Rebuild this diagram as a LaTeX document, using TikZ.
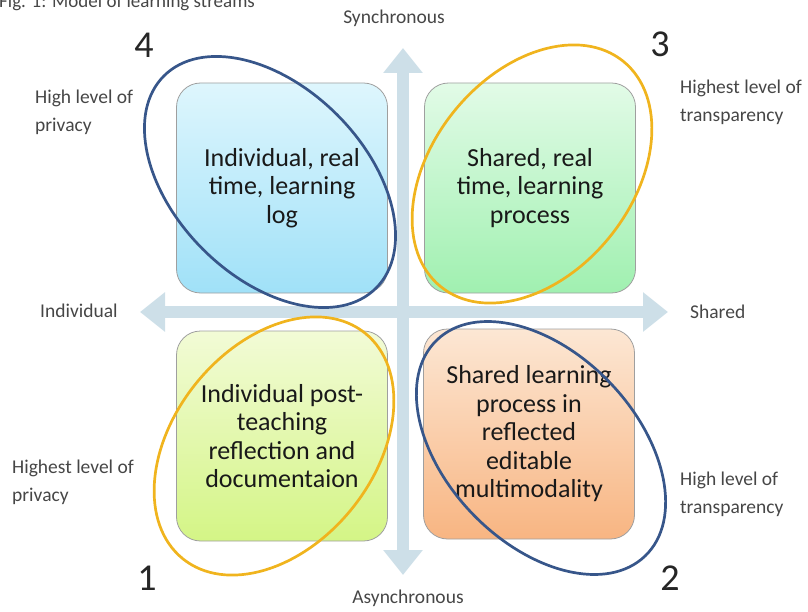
\documentclass[tikz,border=0pt]{standalone}
\usepackage{fontspec}
\setmainfont{Carlito}
\usetikzlibrary{arrows.meta}

\definecolor{axisblue}{RGB}{205,223,232}
\definecolor{ringblue}{RGB}{55,86,138}
\definecolor{ringgold}{RGB}{240,180,30}
\definecolor{labelgrey}{RGB}{70,70,70}

\begin{document}
\begin{tikzpicture}[x=1pt,y=1pt,yscale=-1,xscale=1,
	quad/.style={draw=gray!75, line width=0.8pt, rounded corners=24pt, minimum width=211pt, minimum height=210pt, inner sep=0pt, align=center, text=black!90, font=\fontsize{26}{28.5}\selectfont},
	side/.style={anchor=west, inner sep=0pt, align=left, text=labelgrey, font=\fontsize{19.5}{28}\selectfont},
	axislabel/.style={inner sep=0pt, text=labelgrey, font=\fontsize{19.5}{22}\selectfont},
	corner/.style={inner sep=0pt, text=black!85, font=\fontsize{38}{40}\selectfont},
	axis/.style={line width=12pt, color=axisblue, {Triangle[width=38pt,length=25pt]}-{Triangle[width=38pt,length=25pt]}},
	ring/.style={line width=2.7pt}]
		% Set diagram size to 808 x 612
		\useasboundingbox (0,0) rectangle (808,612);
		\clip (0,0) rectangle (808,612);

		% Caption, cut at the top edge
		\node[anchor=base west, inner sep=0pt, text=labelgrey, font=\fontsize{19}{22}\selectfont] (caption) at (-1,8) {Fig. 1: Model of learning streams};

		% End points of the two axes
		\coordinate (syn) at (403,48);
		\coordinate (asyn) at (403,575);
		\coordinate (indiv) at (140,312);
		\coordinate (shrd) at (668,312);

		% Draw the two double arrows
		\draw[axis] (asyn) -- (syn);
		\draw[axis] (indiv) -- (shrd);

		% Axis labels
		\node[axislabel] (synlabel) at (394,18) {Synchronous};
		\node[axislabel] (asynlabel) at (408,598) {Asynchronous};
		\node[axislabel, anchor=west] (indivlabel) at (40,311) {Individual};
		\node[axislabel, anchor=west] (shrdlabel) at (690,312) {Shared};

		% The four quadrant boxes
		\node[quad, top color={rgb,255:red,222;green,246;blue,253}, bottom color={rgb,255:red,160;green,225;blue,248}] (ilog) at (282,188) {Individual, real\\time, learning\\log};
		\node[quad, top color={rgb,255:red,226;green,251;blue,231}, bottom color={rgb,255:red,160;green,240;blue,176}] (sproc) at (530,188) {Shared, real\\time, learning\\process};
		\node[quad, top color={rgb,255:red,242;green,251;blue,214}, bottom color={rgb,255:red,212;green,245;blue,134}] (irefl) at (282,436) {Individual post-\\teaching\\reflection and\\documentaion};
		\node[quad, top color={rgb,255:red,252;green,231;blue,212}, bottom color={rgb,255:red,248;green,181;blue,130}] (smulti) at (529,434) {Shared learning\\process in\\reflected\\editable\\multimodality};

		% Rings round the boxes
		\draw[ring, ringblue, rotate around={45:(270,182)}] (270,182) ellipse [x radius=150, y radius=95];
		\draw[ring, ringgold, rotate around={-51:(532,174)}] (532,174) ellipse [x radius=145, y radius=100];
		\draw[ring, ringgold, rotate around={-51:(274,446)}] (274,446) ellipse [x radius=145, y radius=100];
		\draw[ring, ringblue, rotate around={46:(541,448)}] (541,448) ellipse [x radius=150, y radius=95];

		% Quadrant numbers
		\node[corner] (n4) at (144,45) {4};
		\node[corner] (n3) at (660,44) {3};
		\node[corner] (n1) at (147,578) {1};
		\node[corner] (n2) at (670,578) {2};

		% Side labels
		\node[side] (privhigh) at (35,112) {High level of\\privacy};
		\node[side] (privtop) at (12,482) {Highest level of\\privacy};
		\node[side] (transtop) at (680,102) {Highest level of\\transparency};
		\node[side] (transhigh) at (680,494) {High level of\\transparency};
	\end{tikzpicture}
\end{document}
